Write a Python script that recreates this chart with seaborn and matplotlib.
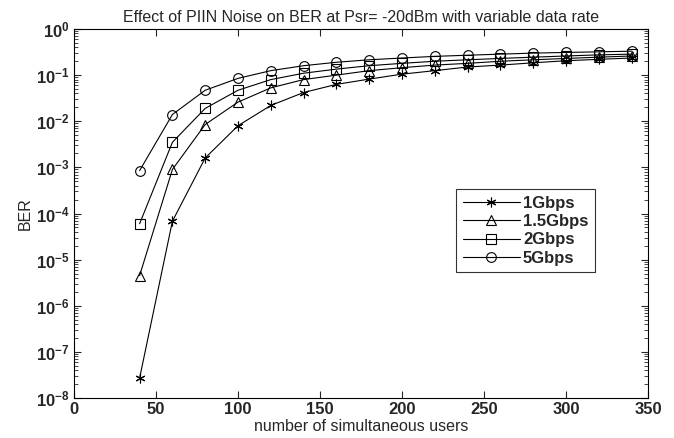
import matplotlib
matplotlib.use("Agg")
import matplotlib.pyplot as plt
import matplotlib.ticker as mticker
import numpy as np
import seaborn as sns

users = [40, 60, 80, 100, 120, 140, 160, 180, 200, 220, 240, 260, 280, 300, 320, 340]

ber_1g = [2.7e-8, 6.8e-5, 1.6e-3, 8.0e-3, 2.2e-2, 4.2e-2, 6.3e-2, 8.2e-2,
          0.105, 0.125, 0.15, 0.165, 0.185, 0.205, 0.22, 0.235]
ber_15g = [4.5e-6, 9.0e-4, 8.5e-3, 2.6e-2, 5.3e-2, 8.0e-2, 0.10, 0.125,
           0.145, 0.165, 0.18, 0.20, 0.215, 0.23, 0.245, 0.26]
ber_2g = [6.0e-5, 3.5e-3, 1.9e-2, 4.7e-2, 8.0e-2, 0.11, 0.135, 0.16,
          0.18, 0.20, 0.215, 0.23, 0.245, 0.26, 0.275, 0.285]
ber_5g = [8.5e-4, 1.4e-2, 4.7e-2, 8.5e-2, 0.125, 0.16, 0.19, 0.215,
          0.235, 0.255, 0.27, 0.285, 0.30, 0.31, 0.32, 0.33]

labels = ["1Gbps", "1.5Gbps", "2Gbps", "5Gbps"]
series = [ber_1g, ber_15g, ber_2g, ber_5g]
markers = [(6, 2, 0), "^", "s", "o"]

sns.set_style("ticks")
plt.rcParams['font.family'] = ['Liberation Sans', 'DejaVu Sans']
plt.rcParams['mathtext.default'] = 'regular'

fig = plt.figure(figsize=(6.74, 4.38), dpi=100)
ax = fig.add_axes([0.1098, 0.0913, 0.8516, 0.8425])

for lab, vals, m in zip(labels, series, markers):
    sns.lineplot(x=users, y=vals, ax=ax, color="black", linewidth=0.8,
                 marker=m, markersize=7, markerfacecolor="none",
                 markeredgecolor="black", markeredgewidth=0.8, label=lab)

ax.set_yscale("log")
ax.set_xlim(0, 350)
ax.set_ylim(1e-8, 1e0)
ax.set_xticks(np.arange(0, 351, 50))
decades = np.arange(-8, 1)
ax.set_yticks(10.0 ** decades)
minor = [s * 10.0 ** d for d in decades[:-1] for s in range(2, 10)]
ax.yaxis.set_minor_locator(mticker.FixedLocator(minor))
ax.yaxis.set_minor_formatter(mticker.NullFormatter())

ax.tick_params(which="both", direction="in", top=True, right=True)
ax.tick_params(which="major", length=5, width=0.8, pad=3)
ax.tick_params(which="minor", length=3, width=0.6)
for t in ax.get_xticklabels() + ax.get_yticklabels():
    t.set_fontweight("bold")
    t.set_fontsize(12)
for s in ax.spines.values():
    s.set_linewidth(0.8)
    s.set_color("black")

ax.set_title("Effect of PIIN Noise on BER at Psr= -20dBm with variable data rate",
             fontsize=11.5, pad=5)
ax.set_xlabel("number of simultaneous users", fontsize=11.5, labelpad=1)
ax.set_ylabel("BER", fontsize=11.5, labelpad=2)

leg = ax.legend(loc="upper left", bbox_to_anchor=(0.666, 0.566), borderaxespad=0,
                frameon=True, fancybox=False, edgecolor="black",
                prop={"weight": "bold", "size": 12}, handlelength=3.4,
                borderpad=0.4, labelspacing=0.2, handletextpad=0.2)
leg.get_frame().set_linewidth(0.8)

fig.savefig("out.png", dpi=100)
